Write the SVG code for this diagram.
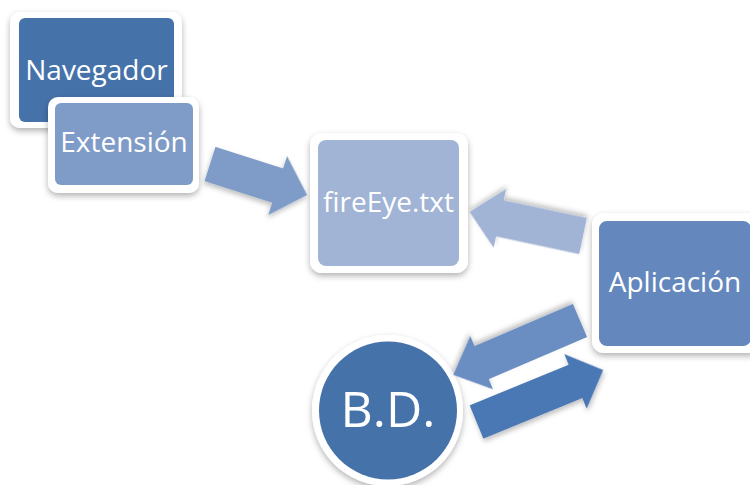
<svg xmlns="http://www.w3.org/2000/svg" width="750" height="485" viewBox="0 0 750 485">
  <defs>
    <filter id="sh" x="-20%" y="-20%" width="140%" height="150%">
      <feDropShadow dx="0" dy="3" stdDeviation="3" flood-color="#000" flood-opacity="0.3"/>
    </filter>
    <filter id="ash" x="-20%" y="-30%" width="140%" height="160%">
      <feDropShadow dx="0" dy="3" stdDeviation="2.5" flood-color="#000" flood-opacity="0.25"/>
    </filter>
  </defs>
  <style>
    .frame { fill: #ffffff; filter: url(#sh); }
    .lbl { font-family: "Open Sans", "Liberation Sans", sans-serif; fill: #ffffff; text-anchor: middle; font-size: 28px; }
    .arr { filter: url(#ash); }
  </style>

  <g id="navegador">
    <rect class="frame" x="10" y="12" width="172" height="116" rx="10"/>
    <rect x="19" y="18" width="155" height="104" rx="6" fill="#4672AA"/>
    <text class="lbl" x="96.5" y="80">Navegador</text>
  </g>

  <g id="extension">
    <rect class="frame" x="48" y="97" width="151" height="96" rx="10"/>
    <rect x="55" y="103" width="138" height="82" rx="6" fill="#7F9CC8"/>
    <text class="lbl" x="124" y="152">Extensión</text>
  </g>

  <g id="fireeye">
    <rect class="frame" x="310" y="133" width="158" height="140" rx="12"/>
    <rect x="318" y="140" width="141" height="126" rx="8" fill="#A1B4D5"/>
    <text class="lbl" x="388.5" y="212">fireEye.txt</text>
  </g>

  <g id="aplicacion">
    <rect class="frame" x="592" y="213" width="170" height="140" rx="12"/>
    <rect x="599" y="221" width="152" height="125" rx="8" fill="#6488BD"/>
    <text class="lbl" x="675" y="292">Aplicación</text>
  </g>

  <g id="bd">
    <circle class="frame" cx="387.5" cy="410.5" r="75.5"/>
    <circle cx="388" cy="410.5" r="69" fill="#4672AA"/>
    <text class="lbl" x="388" y="427" style="font-size:50px">B.D.</text>
  </g>

  <g id="connectors">
    <path class="arr" fill="#7F9CC8" transform="translate(210,164) rotate(17.7)" d="M0,-18 L71,-18 L71,-31 L102,0 L71,31 L71,18 L0,18 Z"/>
    <path class="arr" fill="#A1B4D5" transform="translate(583,236) rotate(192)" d="M0,-18.5 L85,-18.5 L85,-30 L116,0 L85,30 L85,18.5 L0,18.5 Z"/>
    <path class="arr" fill="#6B8DC2" transform="translate(580,320.5) rotate(156.8)" d="M0,-18 L107,-18 L107,-29 L138,0 L107,29 L107,18 L0,18 Z"/>
    <path class="arr" fill="#4A78B4" transform="translate(476.5,422) rotate(-22.3)" d="M0,-18 L107,-18 L107,-29.5 L137,0 L107,29.5 L107,18 L0,18 Z"/>
  </g>
</svg>
